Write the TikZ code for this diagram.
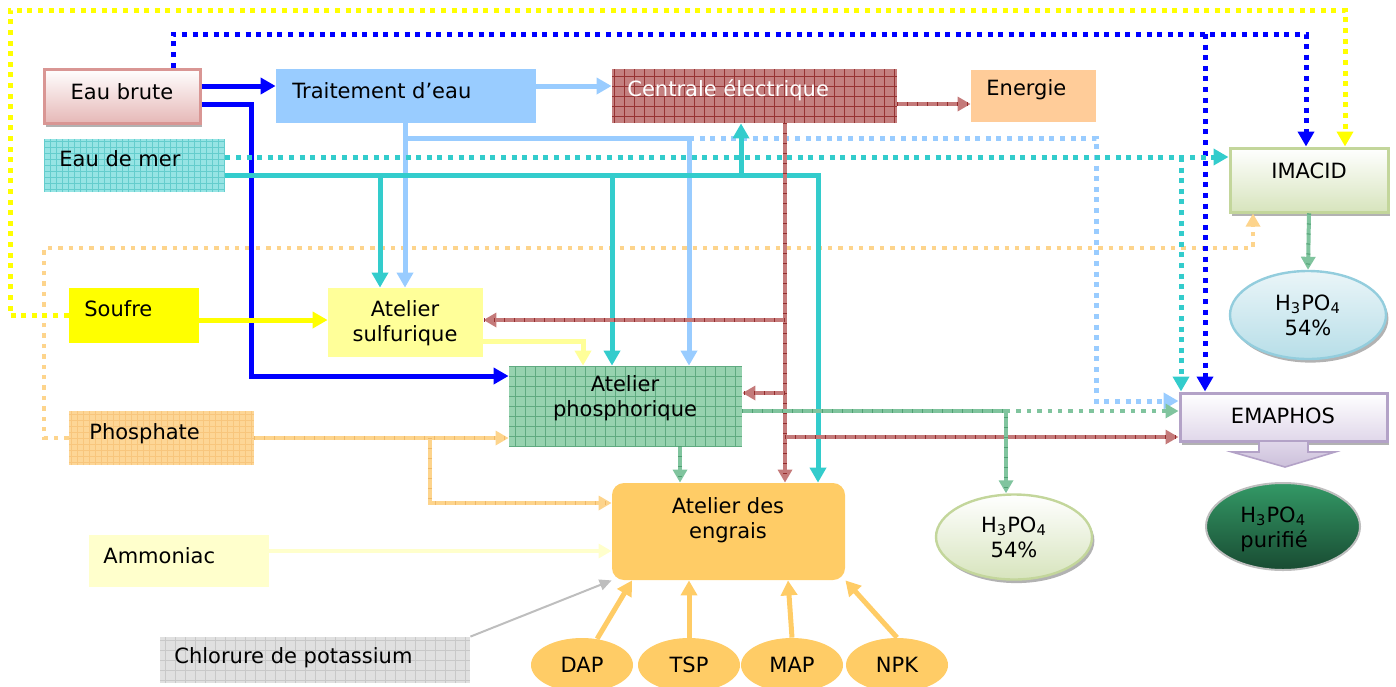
\documentclass[tikz,border=0pt]{standalone}
\usepackage{fontspec}
\setmainfont{DejaVu Sans}
\usetikzlibrary{arrows.meta,shapes.geometric,shadows}
\definecolor{cBlue}{HTML}{0000FF}
\definecolor{cLBlue}{HTML}{99CCFF}
\definecolor{cCyan}{HTML}{33CCCC}
\definecolor{cYel}{HTML}{FFFF00}
\definecolor{cLYel}{HTML}{FFFF99}
\definecolor{cPale}{HTML}{FFFFCC}
\definecolor{cRed}{RGB}{196,122,122}
\definecolor{cRedD}{RGB}{150,45,45}
\definecolor{cGrn}{RGB}{128,196,158}
\definecolor{cGrnD}{RGB}{80,160,115}
\definecolor{cOr}{RGB}{253,212,140}
\definecolor{cOrD}{RGB}{240,185,105}
\definecolor{cEngr}{HTML}{FFCC66}
\definecolor{cEner}{HTML}{FFCC99}
\definecolor{cCent}{RGB}{196,128,128}
\definecolor{cCentG}{RGB}{150,50,50}
\definecolor{cMer}{RGB}{150,228,228}
\definecolor{cMerG}{RGB}{100,205,205}
\definecolor{cPhos}{RGB}{150,210,175}
\definecolor{cPhosG}{RGB}{95,170,128}
\definecolor{cPhat}{RGB}{253,214,150}
\definecolor{cPhatG}{RGB}{248,198,125}
\definecolor{cKcl}{RGB}{224,224,224}
\definecolor{cKclG}{RGB}{200,200,200}
\definecolor{cGray}{RGB}{190,190,190}
\definecolor{cEbB}{RGB}{230,184,183}
\definecolor{cEbD}{RGB}{217,150,148}
\definecolor{cImB}{RGB}{215,228,189}
\definecolor{cImD}{RGB}{195,214,155}
\definecolor{cEmB}{RGB}{224,215,234}
\definecolor{cEmD}{RGB}{179,162,199}
\definecolor{cEmA}{RGB}{204,192,218}
\definecolor{cE1T}{RGB}{234,245,248}
\definecolor{cE1B}{RGB}{183,222,232}
\definecolor{cE1D}{RGB}{147,205,221}
\definecolor{cE3T}{RGB}{51,153,102}
\definecolor{cE3B}{RGB}{25,75,50}
\begin{document}
\begin{tikzpicture}[x=0.5pt,y=-0.5pt,
  font=\fontsize{10.5}{12.5}\selectfont,
  box/.style={rectangle, inner sep=0pt, draw=none},
  gridded/.style n args={3}{fill=#1, path picture={\draw[#2, line width=0.3pt, step=#3] (path picture bounding box.south west) grid (path picture bounding box.north east);}},
  lbl/.style={inner sep=0pt, align=center},
  lbll/.style={inner sep=0pt, anchor=west, align=left},
  arr/.style={-{Triangle[width=8pt,length=7.5pt]}},
  arrs/.style={-{Triangle[width=7pt,length=6.5pt]}},
  solidln/.style={line width=2.5pt},
  dotln/.style={line width=2.5pt, dash pattern=on 2.5pt off 2.8pt},
  dotsm/.style={line width=2.2pt, dash pattern=on 2.2pt off 3pt},
  hatch/.style 2 args={draw=#1, line width=2pt, postaction={draw=#2, -, line width=2pt, dash pattern=on 0.5pt off 4.5pt}},
  shad/.style={drop shadow={shadow xshift=1.2pt, shadow yshift=-1.8pt, fill=black!55, opacity=0.55}},
  prod/.style={ellipse, fill=cEngr, inner sep=0pt, minimum width=51pt, minimum height=27pt}
]
\useasboundingbox (0,0) rectangle (1396,686);

% ---------- nodes ----------
\node[box, shad, top color=white, bottom color=cEbB, draw=cEbD, line width=1.5pt, minimum width=78pt, minimum height=27pt] (eb) at (122,96) {};
\node[lbl] (ebt) at (122,92) {Eau brute};
\node[box, fill=cLBlue, minimum width=130pt, minimum height=27pt] (trait) at (406,96) {};
\node[lbll] (traitt) at (292,91) {Traitement d’eau};
\node[box, gridded={cCent}{cCentG}{5pt}, minimum width=142.5pt, minimum height=27pt] (cent) at (754.5,96) {};
\node[lbll, text=white] (centt) at (627,90) {Centrale électrique};
\node[box, fill=cEner, minimum width=62.5pt, minimum height=26pt] (ener) at (1033.5,96) {};
\node[lbll] (enert) at (986,90) {Energie};
\node[box, gridded={cMer}{cMerG}{3pt}, minimum width=90.5pt, minimum height=26.5pt] (mer) at (134.5,165.5) {};
\node[lbll] (mert) at (59,159) {Eau de mer};
\node[box, shad, top color=white, bottom color=cImB, draw=cImD, line width=1.5pt, minimum width=79pt, minimum height=32pt] (imacid) at (1309,180) {};
\node[lbl] (imacidt) at (1309,171) {IMACID};
\node[ellipse, shad, top color=cE1T, bottom color=cE1B, draw=cE1D, line width=1.2pt, inner sep=0pt, minimum width=78pt, minimum height=44pt, align=center] (ell1) at (1308,315) {H\textsubscript{3}PO\textsubscript{4}\\54\%};
\node[box, fill=cYel, minimum width=65pt, minimum height=27.5pt] (souf) at (134,315.5) {};
\node[lbll] (souft) at (84,309) {Soufre};
\node[box, fill=cLYel, minimum width=77.5pt, minimum height=34.5pt] (sulf) at (405.5,322.5) {};
\node[lbl] (sulft) at (405,323) {Atelier\\sulfurique};
\node[box, gridded={cPhos}{cPhosG}{5pt}, minimum width=116.5pt, minimum height=40pt] (phos) at (625.5,406) {};
\node[lbl] (phost) at (625,398) {Atelier\\phosphorique};
\node[box, gridded={cPhat}{cPhatG}{3pt}, minimum width=92.5pt, minimum height=27pt] (phosph) at (161.5,438) {};
\node[lbll] (phospht) at (89,434) {Phosphate};
\node[box, shad, top color=white, bottom color=cEmB, draw=cEmD, line width=1.5pt, minimum width=103.5pt, minimum height=24pt] (emaphos) at (1283.5,417) {};
\node[lbl] (emaphost) at (1283,416) {EMAPHOS};
\node[box, rounded corners=6pt, fill=cEngr, minimum width=116.5pt, minimum height=48.5pt] (engr) at (728.5,531.5) {};
\node[lbl] (engrt) at (728,520) {Atelier des\\engrais};
\node[box, fill=cPale, minimum width=90pt, minimum height=26pt] (amm) at (179,561) {};
\node[lbll] (ammt) at (103,556) {Ammoniac};
\node[box, gridded={cKcl}{cKclG}{5pt}, minimum width=155pt, minimum height=23pt] (kcl) at (315,660) {};
\node[lbll] (kclt) at (174,658) {Chlorure de potassium};
\node[ellipse, shad, top color=white, bottom color=cImB, draw=cImD, line width=1.2pt, inner sep=0pt, minimum width=78pt, minimum height=42.5pt, align=center] (ell2) at (1014,537) {H\textsubscript{3}PO\textsubscript{4}\\54\%};
\node[ellipse, top color=cE3T, bottom color=cE3B, draw=cGray, line width=1pt, inner sep=0pt, minimum width=77pt, minimum height=43.5pt] (ell3) at (1283,526.5) {};
\node[lbll] (ell3t) at (1240,529) {H\textsubscript{3}PO\textsubscript{4}\\purifié};
\node[prod] (dap) at (582,665) {DAP};
\node[prod] (tsp) at (689,665) {TSP};
\node[prod] (map) at (792,665) {MAP};
\node[prod] (npk) at (897,665) {NPK};

% EMAPHOS block arrow
\path[top color=cEmB, bottom color=cEmA, draw=cEmD, line width=0.8pt] (1259,441) -- (1308,441) -- (1308,452) -- (1335,452) -- (1285,467) -- (1232,452) -- (1259,452) -- cycle;

% ---------- coordinates ----------
\coordinate (y1) at (10,10); \coordinate (y2) at (1345,10);
\coordinate (b1) at (173,34); \coordinate (b2) at (1306,34); \coordinate (b3) at (1205,34);
\coordinate (bs1) at (240,86); \coordinate (bs2) at (251,104); \coordinate (bs3) at (251,376);
\coordinate (lb1) at (405,138); \coordinate (lb2) at (689,138); \coordinate (lb3) at (1096,138); \coordinate (lb4) at (1096,401);
\coordinate (c0) at (300,175); \coordinate (c1) at (380,175); \coordinate (c2) at (612,175); \coordinate (c3) at (741,175); \coordinate (c4) at (818,175);
\coordinate (cd0) at (700,157); \coordinate (cd1) at (1181,157);
\coordinate (r0) at (930,104); \coordinate (r1) at (785,300); \coordinate (r2) at (785,320); \coordinate (r3) at (785,393); \coordinate (r4) at (785,437);
\coordinate (g1) at (1006,411); \coordinate (g2) at (680,460);
\coordinate (ly) at (583,341);
\coordinate (s1) at (260,320);
\coordinate (o1) at (430,438); \coordinate (o2) at (430,503);
\coordinate (o4) at (44,248); \coordinate (o5) at (1253,248);
\coordinate (a1) at (400,551);
\coordinate (e1) at (632,582); \coordinate (e3) at (788,582);

% ---------- connectors ----------
% orange dotted
\draw[dotsm, draw=cOr, arrs] (phosph.west) -| (o4) -| (imacid.south -| o5);
% yellow dotted
\draw[dotln, draw=cYel, arr] (souf.west) -| (y1) -| (imacid.north -| y2);
% blue dotted
\draw[dotln, draw=cBlue, arr] (eb.north -| b1) -- (b1) -| (imacid.north -| b2);
\draw[dotln, draw=cBlue, arr] (b3) -- (emaphos.north -| b3);
% blue solid
\draw[solidln, draw=cBlue, arr] (eb.east |- bs1) -- (trait.west |- bs1);
\draw[solidln, draw=cBlue, arr] (eb.east |- bs2) -- (bs2) -- (bs3) -- (phos.west |- bs3);
% light blue
\draw[solidln, draw=cLBlue, arr] (trait.east |- bs1) -- (cent.west |- bs1);
\draw[solidln, draw=cLBlue, arr] (trait.south -| lb1) -- (sulf.north -| lb1);
\draw[solidln, draw=cLBlue, arr] (lb1) -| (phos.north -| lb2);
\draw[dotln, draw=cLBlue, arr] (lb2) -- (lb3) -- (lb4) -- (emaphos.west |- lb4);
% cyan dotted
\draw[dotln, draw=cCyan, arr] (mer.east |- cd0) -- (imacid.west |- cd0);
\draw[dotln, draw=cCyan, arr] (cd1) -- (emaphos.north -| cd1);
% cyan solid
\draw[solidln, draw=cCyan, arr] (mer.east |- c0) -| (engr.north -| c4);
\draw[solidln, draw=cCyan, arr] (c1) -- (sulf.north -| c1);
\draw[solidln, draw=cCyan, arr] (c2) -- (phos.north -| c2);
\draw[solidln, draw=cCyan, arr] (c3) -- (cent.south -| c3);
% red hatched
\draw[hatch={cRed}{cRedD}, arrs] (cent.east |- r0) -- (ener.west |- r0);
\draw[hatch={cRed}{cRedD}, arrs] (cent.south -| r1) -- (engr.north -| r1);
\draw[hatch={cRed}{cRedD}, arrs] (r2) -- (sulf.east |- r2);
\draw[hatch={cRed}{cRedD}, arrs] (r3) -- (phos.east |- r3);
\draw[hatch={cRed}{cRedD}, arrs] (r4) -- (emaphos.west |- r4);
% green
\draw[hatch={cGrn}{cGrnD}, arrs] (phos.east |- g1) -| (ell2.north -| g1);
\draw[dotsm, draw=cGrn, arrs] (g1) -- (emaphos.west |- g1);
\draw[hatch={cGrn}{cGrnD}, arrs] (phos.south -| g2) -- (engr.north -| g2);
\draw[hatch={cGrn}{cGrnD}, arrs] (imacid.south) -- (ell1.north);
% light yellow
\draw[solidln, draw=cLYel, arr] (sulf.east |- ly) -| (phos.north -| ly);
% yellow
\draw[solidln, draw=cYel, arr] (souf.east |- s1) -- (sulf.west |- s1);
% orange hatched
\draw[hatch={cOr}{cOrD}, arrs] (phosph.east |- o1) -- (phos.west |- o1);
\draw[hatch={cOr}{cOrD}, arrs] (o1) -- (o2) -- (engr.west |- o2);
% ammoniac
\draw[line width=2pt, draw=cPale, arrs] (amm.east |- a1) -- (engr.west |- a1);
% KCl
\draw[line width=1pt, draw=cGray, -{Triangle[width=5.5pt,length=6pt]}] (kcl.north east) -- (engr.south west);
% products
\draw[solidln, draw=cEngr, arr] (dap.60) -- (engr.south -| e1);
\draw[solidln, draw=cEngr, arr] (tsp.north) -- (engr.south -| tsp.north);
\draw[solidln, draw=cEngr, arr] (map.north) -- (engr.south -| e3);
\draw[solidln, draw=cEngr, arr] (npk.north) -- (engr.south east);
\end{tikzpicture}
\end{document}
